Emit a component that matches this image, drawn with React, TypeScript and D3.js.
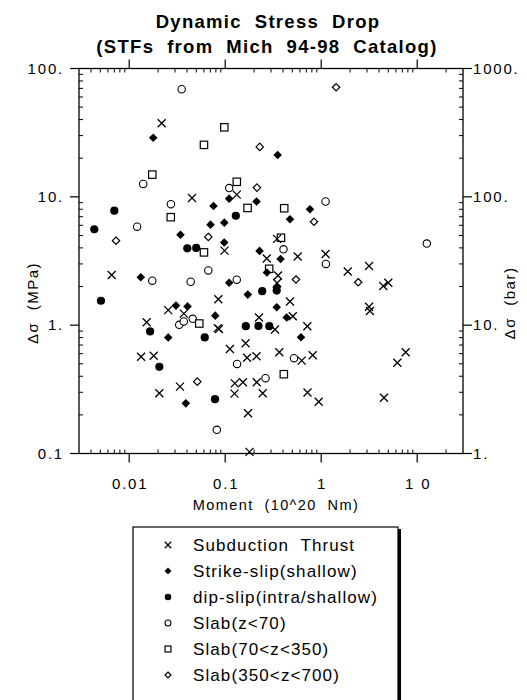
import React from 'react';
import * as d3 from 'd3';

// [Moment (10^20 Nm), stress drop (MPa)]
const thrust: [number, number][] = [
  [0.0218, 37.4], [0.0451, 9.8], [0.132, 10.4], [0.0984, 3.81], [0.347, 4.70], [0.271, 3.31],
  [0.569, 3.43], [1.11, 3.59], [1.89, 2.62], [3.15, 2.89], [4.43, 2.02], [5.0, 2.14],
  [3.15, 1.39], [3.22, 1.29], [0.355, 2.44], [0.347, 2.13], [0.473, 1.53], [0.225, 1.148],
  [0.506, 1.175], [0.330, 0.926], [0.717, 0.982], [0.212, 0.573], [0.366, 0.615], [0.626, 0.529],
  [0.816, 0.583], [7.59, 0.615], [6.21, 0.510], [0.213, 0.359], [0.246, 0.295], [0.720, 0.299],
  [0.942, 0.253], [4.51, 0.272], [0.00657, 2.46], [0.0255, 1.31], [0.0371, 1.23], [0.0848, 1.59],
  [0.0152, 1.053], [0.0836, 0.948], [0.0861, 0.934], [0.0133, 0.568], [0.0180, 0.578], [0.112, 0.652],
  [0.163, 0.724], [0.169, 0.557], [0.126, 0.352], [0.153, 0.359], [0.125, 0.293], [0.0338, 0.332],
  [0.0206, 0.295], [0.173, 0.206], [0.179, 0.103],
];
const strikeSlip: [number, number][] = [
  [0.0178, 28.9], [0.0755, 8.49], [0.110, 9.68], [0.212, 9.20], [0.0703, 6.07], [0.0979, 6.29],
  [0.0342, 5.06], [0.0977, 4.41], [0.228, 3.79], [0.352, 21.2], [0.764, 8.0], [0.473, 6.69],
  [0.377, 3.28], [0.272, 2.57], [0.344, 1.38], [0.437, 1.148], [0.616, 0.806], [0.0132, 2.36],
  [0.110, 2.14], [0.172, 1.73], [0.0307, 1.42], [0.0405, 1.40], [0.0788, 1.186], [0.0255, 0.802],
  [0.0389, 0.246], [0.344, 1.97],
];
const dipSlip: [number, number][] = [
  [0.0070, 7.80], [0.00433, 5.59], [0.129, 7.12], [0.0403, 3.97], [0.0499, 4.0], [0.243, 1.84],
  [0.344, 1.86], [0.222, 0.986], [0.288, 0.982], [0.00508, 1.55], [0.0165, 0.893], [0.0612, 0.802],
  [0.164, 0.982], [0.0206, 0.474], [0.0783, 0.265],
];
const slabShallow: [number, number][] = [
  [0.0352, 68.9], [0.0140, 12.6], [0.110, 11.7], [0.0272, 8.77], [0.0121, 5.85], [1.11, 9.20],
  [12.6, 4.32], [0.405, 3.90], [1.12, 3.00], [0.0667, 2.67], [0.0174, 2.22], [0.0437, 2.18],
  [0.132, 2.26], [0.0332, 1.007], [0.0370, 1.07], [0.0459, 1.12], [0.133, 0.499], [0.263, 0.386],
  [0.521, 0.553], [0.0818, 0.153],
];
const slabMid: [number, number][] = [
  [0.0979, 34.8], [0.0601, 25.4], [0.0174, 14.9], [0.132, 13.1], [0.171, 8.19], [0.0271, 6.94],
  [0.0601, 3.69], [0.412, 8.15], [0.381, 4.80], [0.287, 2.75], [0.0537, 1.03], [0.408, 0.415],
];
const slabDeep: [number, number][] = [
  [1.43, 71.4], [0.229, 24.5], [0.214, 11.8], [0.00729, 4.55], [0.0667, 4.87], [0.841, 6.39],
  [0.546, 2.27], [2.43, 2.16], [0.0512, 0.363],
];

const xMajorTicks = [0.01, 0.1, 1, 10];
const xTickLabels = ['0.01', '0.1', '1', '1 0'];
const yMajorTicks = [0.1, 1, 10, 100];
const yTickLabels = ['0.1', '1.', '10.', '100.'];
const yRightLabels = ['1.', '10.', '100.', '1000.'];
const legendLabels = [
  'Subduction  Thrust',
  'Strike-slip(shallow)',
  'dip-slip(intra/shallow)',
  'Slab(z<70)',
  'Slab(70<z<350)',
  'Slab(350<z<700)',
];

const FONT = '"Liberation Sans", Arial, Helvetica, sans-serif';
const L = 79, R = 463, T = 68.5, B = 453.5;

type Kind = 'x' | 'fd' | 'fc' | 'oc' | 'sq' | 'od';

function Marker({ kind, x, y, s = 1 }: { kind: Kind; x: number; y: number; s?: number }) {
  if (kind === 'x') {
    const h = 4 * s;
    return (
      <path d={`M${x - h},${y - h}L${x + h},${y + h}M${x - h},${y + h}L${x + h},${y - h}`}
        stroke="#000" strokeWidth={1.3} fill="none" />
    );
  }
  if (kind === 'fd') {
    const h = 4.3 * s;
    return <path d={`M${x},${y - h}L${x + h},${y}L${x},${y + h}L${x - h},${y}Z`} fill="#000" />;
  }
  if (kind === 'fc') return <circle cx={x} cy={y} r={4.1 * s} fill="#000" />;
  if (kind === 'oc') return <circle cx={x} cy={y} r={3.7 * s} fill="#fff" stroke="#000" strokeWidth={1.1} />;
  if (kind === 'sq') {
    const h = 3.7 * s;
    return <rect x={x - h} y={y - h} width={2 * h} height={2 * h} fill="#fff" stroke="#000" strokeWidth={1.2} />;
  }
  const h = 3.7 * s;
  return <path d={`M${x},${y - h}L${x + h},${y}L${x},${y + h}L${x - h},${y}Z`} fill="#fff" stroke="#000" strokeWidth={1.2} />;
}

export default function App() {
  const x = d3.scaleLog().domain([0.003, 30]).range([L, R]);
  const y = d3.scaleLog().domain([0.1, 100]).range([B, T]);

  const xMinor: number[] = [];
  for (const d of [0.001, 0.01, 0.1, 1, 10]) for (let k = 2; k <= 9; k++) {
    const v = k * d;
    if (v > 0.003 * 1.0001 && v < 30 * 0.9999) xMinor.push(v);
  }
  const yMinor: number[] = [];
  for (const d of [0.1, 1, 10]) for (let k = 2; k <= 9; k++) yMinor.push(k * d);

  const series: { kind: Kind; data: [number, number][] }[] = [
    { kind: 'oc', data: slabShallow },
    { kind: 'sq', data: slabMid },
    { kind: 'od', data: slabDeep },
    { kind: 'x', data: thrust },
    { kind: 'fd', data: strikeSlip },
    { kind: 'fc', data: dipSlip },
  ];
  const legendKinds: Kind[] = ['x', 'fd', 'fc', 'oc', 'sq', 'od'];

  const major = 9, minor = 4;

  return (
    <svg width={527} height={700} style={{ position: 'absolute', left: 0, top: 0, background: '#fff' }}
      fontFamily={FONT}>
      <rect x={0} y={0} width={527} height={700} fill="#fff" />
      {/* title */}
      <text x={268} y={28} textAnchor="middle" fontSize={18.5} fontWeight="bold" letterSpacing={1.3}
        style={{ whiteSpace: 'pre' }}>Dynamic  Stress  Drop</text>
      <text x={267} y={53} textAnchor="middle" fontSize={18.5} fontWeight="bold" letterSpacing={1.3}
        style={{ whiteSpace: 'pre' }}>(STFs  from  Mich  94-98  Catalog)</text>

      {/* frame */}
      <rect x={L} y={T} width={R - L} height={B - T} fill="none" stroke="#000" strokeWidth={1.3} />

      {/* x ticks */}
      {xMajorTicks.map((v) => (
        <g key={'xm' + v}>
          <line x1={x(v)} x2={x(v)} y1={B} y2={B + major} stroke="#000" strokeWidth={1.2} />
          <line x1={x(v)} x2={x(v)} y1={T} y2={T - major} stroke="#000" strokeWidth={1.2} />
        </g>
      ))}
      {xMinor.map((v) => (
        <g key={'xn' + v}>
          <line x1={x(v)} x2={x(v)} y1={B} y2={B - minor} stroke="#000" strokeWidth={1} />
          <line x1={x(v)} x2={x(v)} y1={T} y2={T + minor} stroke="#000" strokeWidth={1} />
        </g>
      ))}
      {xMajorTicks.map((v, i) => (
        <text key={'xl' + v} x={x(v) + 1} y={489} textAnchor="middle" fontSize={15} letterSpacing={1.8}
          style={{ whiteSpace: 'pre' }}>{xTickLabels[i]}</text>
      ))}
      <text x={276} y={510} textAnchor="middle" fontSize={14.5} letterSpacing={1.4}
        style={{ whiteSpace: 'pre' }}>Moment  (10^20  Nm)</text>

      {/* y ticks */}
      {yMajorTicks.map((v) => (
        <g key={'ym' + v}>
          <line x1={L} x2={L - major} y1={y(v)} y2={y(v)} stroke="#000" strokeWidth={1.2} />
          <line x1={R} x2={R + major} y1={y(v)} y2={y(v)} stroke="#000" strokeWidth={1.2} />
        </g>
      ))}
      {yMinor.map((v) => (
        <g key={'yn' + v}>
          <line x1={L} x2={L + minor} y1={y(v)} y2={y(v)} stroke="#000" strokeWidth={1} />
          <line x1={R} x2={R - minor} y1={y(v)} y2={y(v)} stroke="#000" strokeWidth={1} />
        </g>
      ))}
      {yMajorTicks.map((v, i) => (
        <text key={'yl' + v} x={64} y={y(v) + 5} textAnchor="end" fontSize={15} letterSpacing={1.8}>{yTickLabels[i]}</text>
      ))}
      {yMajorTicks.map((v, i) => (
        <text key={'yr' + v} x={473} y={y(v) + 5} textAnchor="start" fontSize={15} letterSpacing={1.8}>{yRightLabels[i]}</text>
      ))}
      <text transform="translate(38,303) rotate(-90)" textAnchor="middle" fontSize={15} letterSpacing={1.5}
        style={{ whiteSpace: 'pre' }}>Δσ  (MPa)</text>
      <text transform="translate(515,303) rotate(-90)" textAnchor="middle" fontSize={15} letterSpacing={1.5}
        style={{ whiteSpace: 'pre' }}>Δσ  (bar)</text>

      {/* points */}
      {series.map((s, si) => (
        <g key={'s' + si}>
          {s.data.map((d, i) => (
            <Marker key={i} kind={s.kind} x={x(d[0])} y={y(d[1])} />
          ))}
        </g>
      ))}

      {/* legend */}
      <rect x={133} y={527} width={265} height={190} fill="#fff" stroke="#000" strokeWidth={1.2} />
      <line x1={399.5} x2={399.5} y1={529} y2={700} stroke="#000" strokeWidth={3} />
      {legendLabels.map((lab, i) => (
        <g key={'lg' + i}>
          <Marker kind={legendKinds[i]} x={168} y={545 + i * 26} s={0.8} />
          <text x={193} y={551 + i * 26} fontSize={17} letterSpacing={1.1}
            style={{ whiteSpace: 'pre' }}>{lab}</text>
        </g>
      ))}
    </svg>
  );
}
